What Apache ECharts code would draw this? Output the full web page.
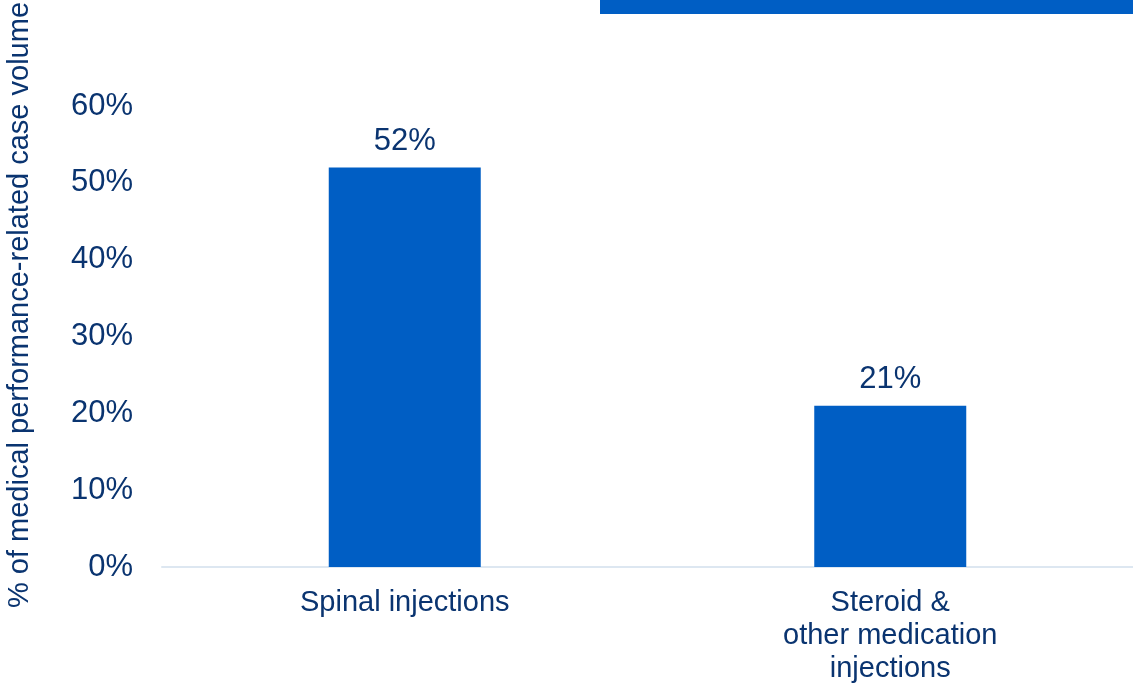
<!DOCTYPE html>
<html>
<head>
<meta charset="utf-8">
<script src="https://cdn.jsdelivr.net/npm/echarts@6/dist/echarts.min.js"></script>
<style>
html,body{margin:0;padding:0;background:#fff;}
#chart{width:1133px;height:688px;}
</style>
</head>
<body>
<div id="chart"></div>
<script>
const categories = ['Spinal injections', 'Steroid &\nother medication\ninjections'];
const values = [52, 21];
const yTicks = [0, 10, 20, 30, 40, 50, 60];
const yTitle = '% of medical performance-related case volume';

const textColor = '#0a3470';
const barColor = '#005ec4';
const font = 'Liberation Sans, Arial, sans-serif';

const chart = echarts.init(document.getElementById('chart'));
chart.setOption({
  backgroundColor: '#fff',
  animation: false,
  grid: { left: 162, right: 0, top: 106, bottom: 121, containLabel: false },
  xAxis: {
    type: 'category',
    data: categories,
    axisLine: { show: true, lineStyle: { color: '#dde7f1', width: 2 } },
    axisTick: { show: false },
    axisLabel: { color: textColor, fontSize: 29, fontFamily: font, lineHeight: 33, margin: 19 }
  },
  yAxis: {
    type: 'value',
    min: yTicks[0],
    max: yTicks[yTicks.length - 1],
    interval: 10,
    splitLine: { show: false },
    axisLine: { show: false },
    axisTick: { show: false },
    axisLabel: { color: textColor, fontSize: 31, fontFamily: font, margin: 29, formatter: v => v + '%' }
  },
  series: [{
    type: 'bar',
    data: values,
    barWidth: 152,
    itemStyle: { color: barColor },
    label: { show: true, position: 'top', distance: 11, color: textColor, fontSize: 31, fontFamily: font, formatter: p => p.value + '%' }
  }],
  graphic: [
    { type: 'rect', left: 600, top: 0, shape: { width: 533, height: 14 }, style: { fill: barColor } },
    { type: 'text', x: 20, y: 305, rotation: Math.PI / 2,
      style: { text: yTitle, fill: textColor, fontSize: 29, fontFamily: font, textAlign: 'center', textVerticalAlign: 'middle' } }
  ]
});
</script>
</body>
</html>
